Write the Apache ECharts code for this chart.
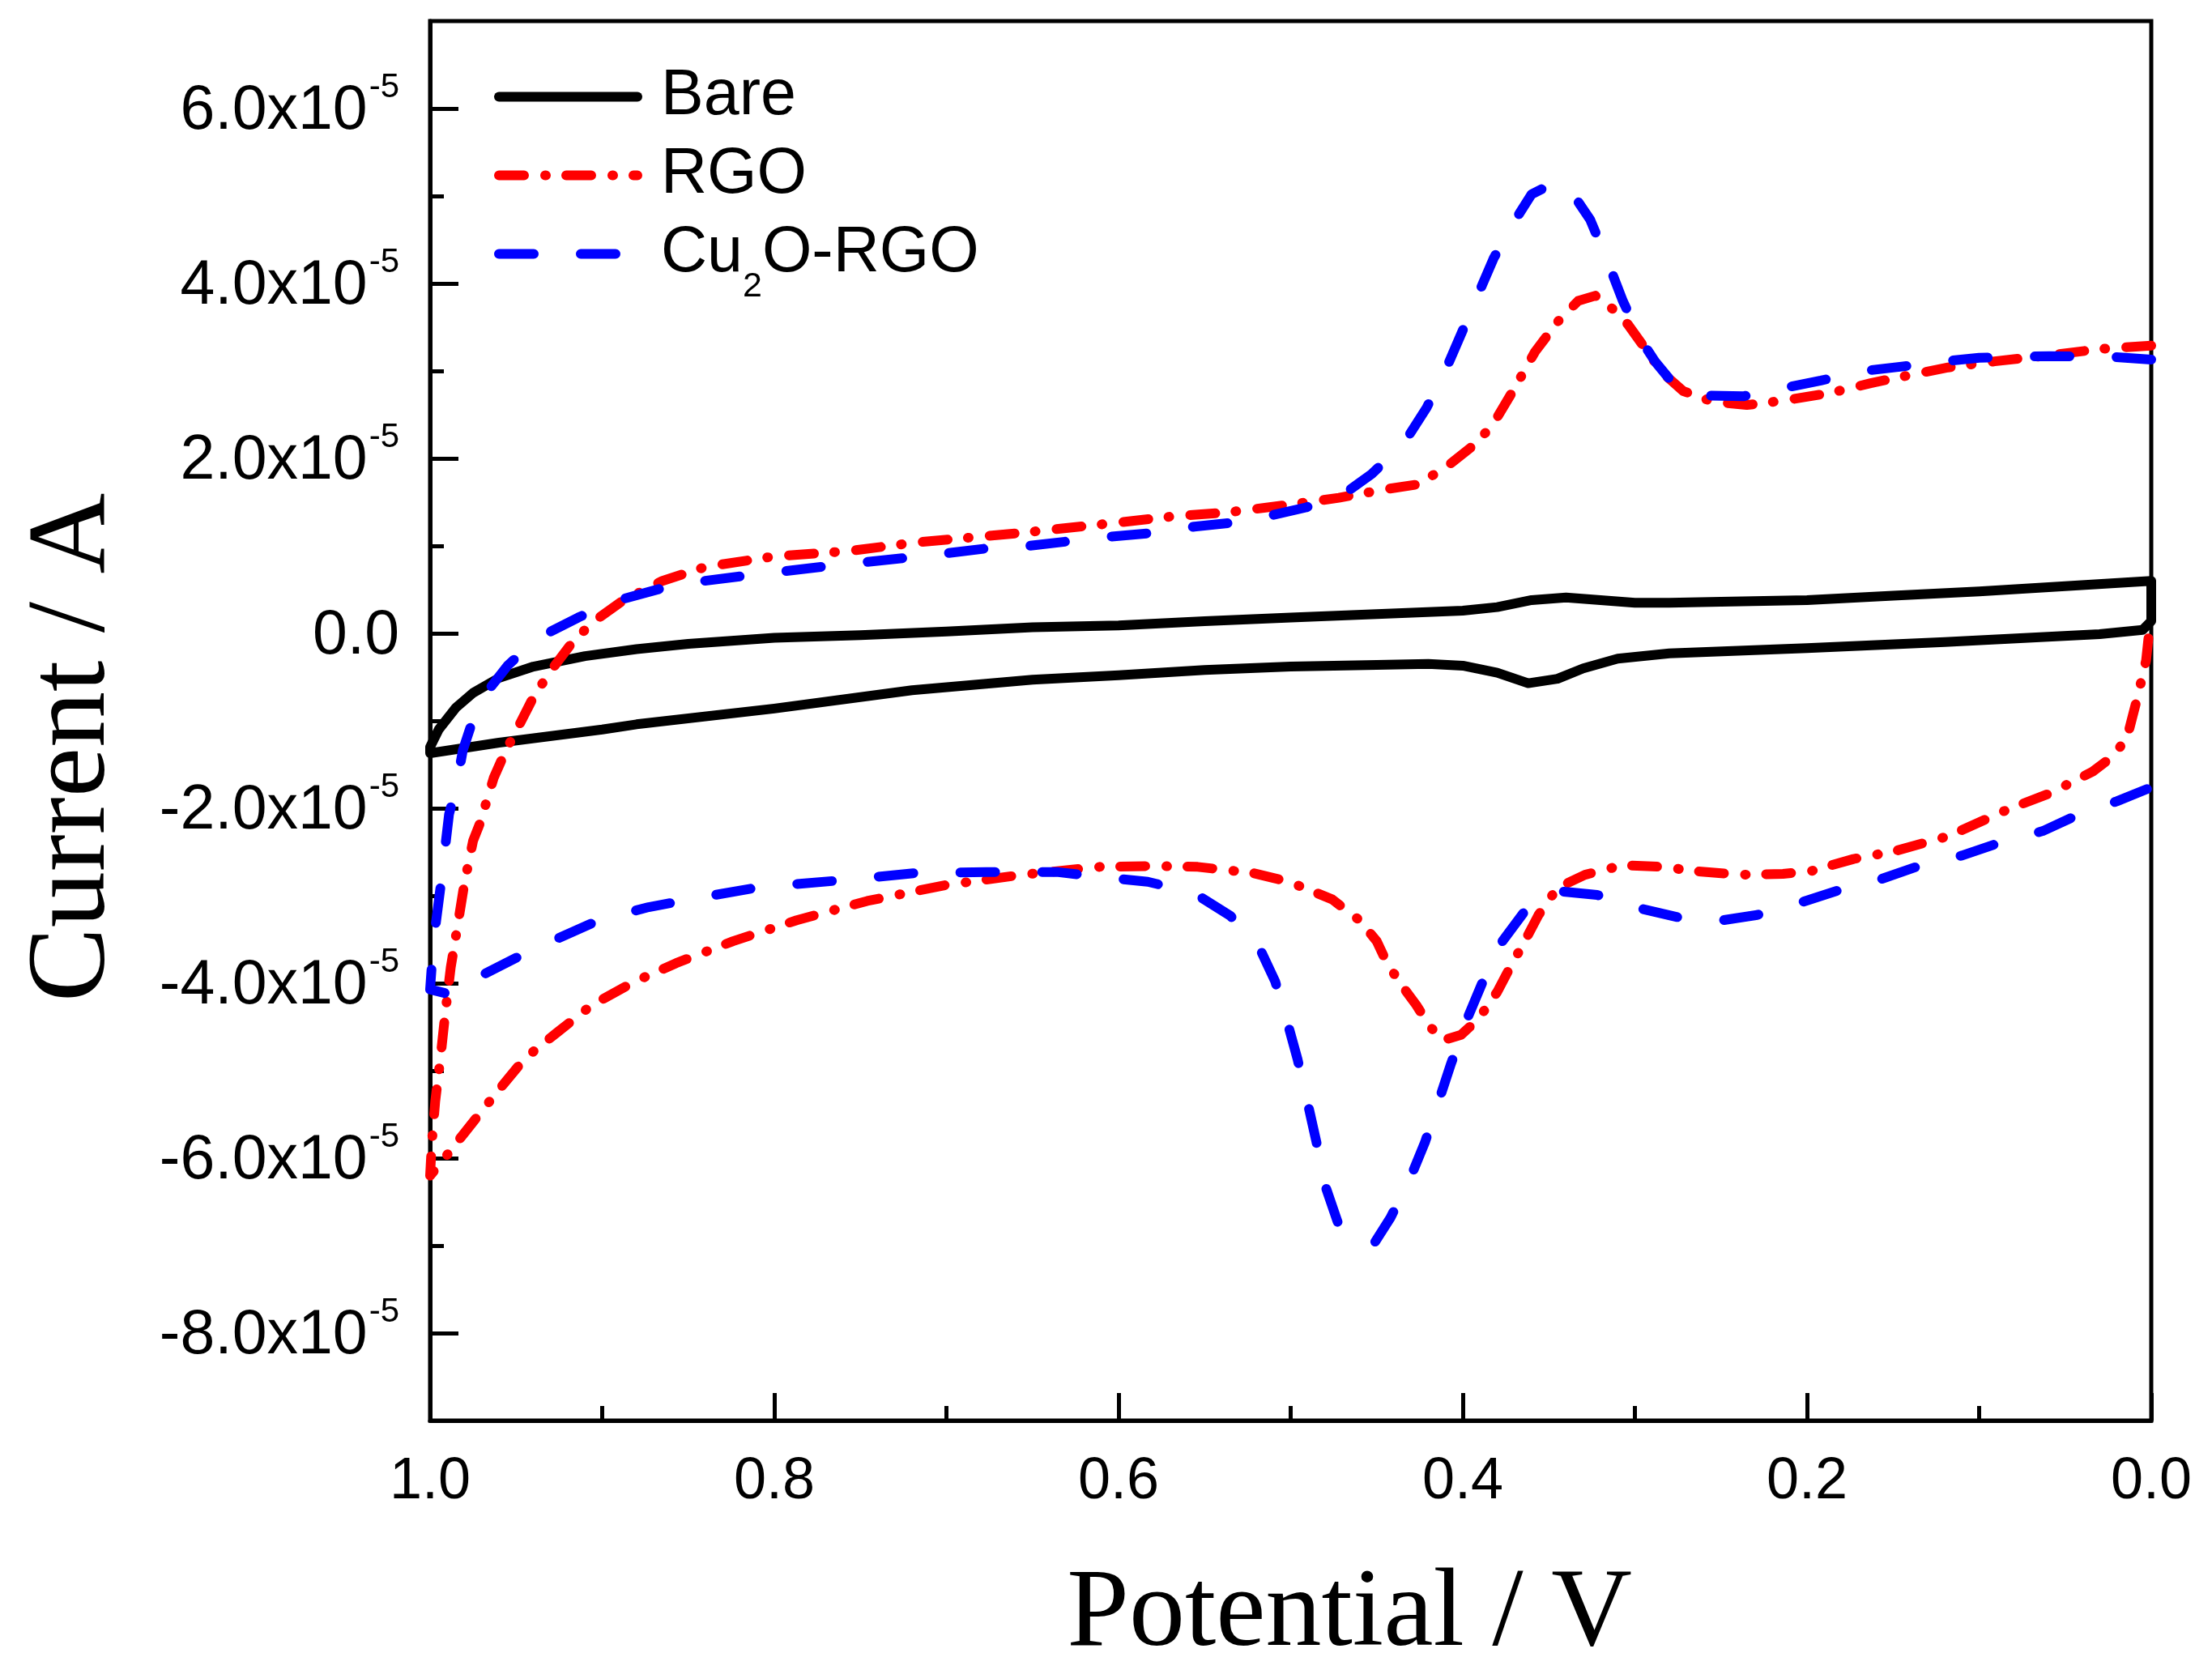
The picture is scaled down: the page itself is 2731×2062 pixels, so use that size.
<!DOCTYPE html>
<html>
<head>
<meta charset="utf-8">
<script src="https://cdn.jsdelivr.net/npm/echarts@6/dist/echarts.min.js"></script>
<style>
html,body{margin:0;padding:0;background:#fff;}
#c{width:2731px;height:2062px;}
</style>
</head>
<body>
<div id="c"></div>
<script>
// Potential (V) vs current (units of 1e-5 A), traced around each CV loop
const xTicks = [0, 0.2, 0.4, 0.6, 0.8, 1.0];
const yMajorTicks = [-8, -6, -4, -2, 0, 2, 4, 6];
const yMinorTicks = [-7, -5, -3, -1, 1, 3, 5];
const seriesNames = ['Bare', 'RGO', 'Cu2O-RGO'];

const bareLoop = [
  [0,0.60],[0.05,0.54],[0.10,0.48],[0.15,0.43],[0.20,0.38],[0.25,0.36],[0.28,0.35],[0.30,0.35],
  [0.32,0.38],[0.34,0.41],[0.36,0.38],[0.38,0.30],[0.40,0.26],[0.45,0.22],[0.50,0.18],[0.55,0.14],
  [0.60,0.09],[0.65,0.07],[0.70,0.02],[0.75,-0.02],[0.80,-0.05],[0.85,-0.12],[0.88,-0.18],[0.91,-0.26],
  [0.94,-0.38],[0.96,-0.51],[0.975,-0.68],[0.985,-0.85],[0.995,-1.10],[1.0,-1.30],
  [1.0,-1.37],[0.96,-1.25],[0.90,-1.10],[0.88,-1.04],[0.80,-0.86],[0.72,-0.65],[0.65,-0.53],[0.60,-0.48],
  [0.55,-0.42],[0.50,-0.38],[0.45,-0.36],[0.42,-0.35],[0.40,-0.37],[0.38,-0.45],[0.362,-0.57],[0.345,-0.52],
  [0.33,-0.40],[0.31,-0.29],[0.28,-0.23],[0.20,-0.17],[0.12,-0.10],[0.03,-0.01],[0.005,0.04],[0,0.14],[0,0.60]
];

const rgoLoop = [
  [0,3.29],[0.030,3.25],[0.063,3.17],[0.091,3.11],[0.118,3.04],[0.141,2.95],[0.163,2.86],[0.186,2.75],
  [0.214,2.66],[0.235,2.61],[0.255,2.65],[0.272,2.77],[0.284,2.98],[0.296,3.31],[0.304,3.53],[0.313,3.71],
  [0.323,3.86],[0.333,3.80],[0.345,3.56],[0.358,3.22],[0.370,2.80],[0.383,2.37],[0.395,2.13],[0.411,1.88],
  [0.427,1.70],[0.444,1.65],[0.472,1.55],[0.501,1.47],[0.538,1.38],[0.567,1.34],[0.608,1.25],[0.656,1.15],
  [0.678,1.11],[0.717,1.04],[0.757,0.94],[0.800,0.88],[0.840,0.76],[0.865,0.60],[0.889,0.36],[0.906,0.12],
  [0.918,-0.12],[0.930,-0.43],[0.940,-0.73],[0.948,-1.04],[0.956,-1.34],[0.963,-1.65],[0.971,-2.17],[0.975,-2.37],
  [0.980,-2.85],[0.984,-3.34],[0.988,-3.82],[0.991,-4.31],[0.994,-4.86],[0.997,-5.35],[0.999,-5.83],[1.0,-6.20],
  [0.990,-5.96],[0.980,-5.71],[0.963,-5.29],[0.945,-4.86],[0.926,-4.56],[0.906,-4.25],[0.881,-3.98],[0.857,-3.77],
  [0.824,-3.52],[0.787,-3.28],[0.746,-3.06],[0.701,-2.88],[0.656,-2.76],[0.611,-2.67],[0.580,-2.66],[0.554,-2.67],
  [0.522,-2.74],[0.501,-2.84],[0.476,-3.04],[0.460,-3.28],[0.450,-3.52],[0.444,-3.77],[0.436,-4.01],[0.427,-4.25],
  [0.419,-4.50],[0.411,-4.65],[0.401,-4.59],[0.391,-4.41],[0.380,-4.10],[0.372,-3.80],[0.364,-3.52],[0.356,-3.22],
  [0.345,-2.91],[0.329,-2.76],[0.307,-2.65],[0.284,-2.67],[0.264,-2.72],[0.239,-2.76],[0.214,-2.75],[0.198,-2.72],
  [0.173,-2.58],[0.149,-2.49],[0.118,-2.32],[0.083,-2.01],[0.059,-1.83],[0.034,-1.58],[0.022,-1.40],[0.014,-1.19],
  [0.008,-0.73],[0.003,-0.31],[0.001,0.06]
];

const cu2oLoop = [
  [0,3.13],[0.022,3.16],[0.059,3.17],[0.100,3.15],[0.120,3.11],[0.145,3.05],[0.167,3.00],[0.192,2.89],
  [0.215,2.80],[0.237,2.71],[0.262,2.72],[0.280,2.91],[0.288,3.10],[0.296,3.34],[0.307,3.80],[0.316,4.26],
  [0.326,4.73],[0.339,5.11],[0.348,5.14],[0.360,5.02],[0.371,4.68],[0.382,4.29],[0.391,3.88],[0.401,3.42],
  [0.410,3.01],[0.421,2.58],[0.434,2.18],[0.453,1.82],[0.470,1.58],[0.491,1.44],[0.511,1.35],[0.536,1.26],
  [0.556,1.22],[0.579,1.15],[0.608,1.10],[0.652,1.00],[0.677,0.97],[0.715,0.88],[0.764,0.78],[0.812,0.67],
  [0.857,0.56],[0.894,0.36],[0.914,0.18],[0.938,-0.06],[0.955,-0.37],[0.967,-0.67],[0.975,-0.98],[0.981,-1.34],
  [0.985,-1.77],[0.989,-2.07],[0.994,-2.91],[0.998,-3.52],[1.0,-4.07],
  [0.988,-4.13],[0.971,-3.92],[0.947,-3.68],[0.926,-3.49],[0.902,-3.28],[0.873,-3.13],[0.840,-3.01],[0.808,-2.90],
  [0.759,-2.82],[0.718,-2.74],[0.677,-2.73],[0.635,-2.73],[0.608,-2.79],[0.583,-2.84],[0.556,-2.97],[0.535,-3.23],
  [0.518,-3.60],[0.509,-3.98],[0.502,-4.44],[0.496,-4.87],[0.490,-5.38],[0.485,-5.82],[0.480,-6.31],[0.472,-6.77],
  [0.452,-6.99],[0.442,-6.68],[0.431,-6.25],[0.422,-5.82],[0.414,-5.35],[0.407,-4.93],[0.399,-4.48],[0.389,-4.01],
  [0.377,-3.52],[0.363,-3.15],[0.343,-2.95],[0.322,-2.99],[0.296,-3.15],[0.274,-3.25],[0.249,-3.28],[0.229,-3.22],
  [0.204,-3.08],[0.182,-2.94],[0.157,-2.81],[0.135,-2.66],[0.110,-2.54],[0.089,-2.40],[0.063,-2.26],[0.042,-2.07],
  [0.020,-1.92],[0,-1.76]
];

const SANS = 'Liberation Sans, Arial, sans-serif';
const SERIF = 'Liberation Serif, Times New Roman, serif';
const tickLine = {color: '#000', width: 5};
const PLOT_W = 2731 - 531 - 75;

const chart = echarts.init(document.getElementById('c'));
chart.setOption({
  animation: false,
  backgroundColor: '#fff',
  grid: {
    left: 531, right: 75, top: 26, bottom: 308, show: true, borderColor: '#000', borderWidth: 5,
    backgroundColor: 'transparent', containLabel: false, outerBoundsMode: 'none'
  },
  legend: {
    orient: 'vertical', left: 610, top: 57, padding: 0,
    itemWidth: 171, itemHeight: 40, itemGap: -28,
    data: seriesNames,
    itemStyle: {color: 'transparent', borderWidth: 0, opacity: 0},
    lineStyle: {width: 12},
    formatter: function (name) {
      return name === 'Cu2O-RGO' ? '{n|Cu}{sub|2}{n|O-RGO}' : '{n|' + name + '}{sub| }';
    },
    textStyle: {
      fontSize: 79, fontFamily: SANS, color: '#000', padding: [0, 0, 0, 24],
      rich: {
        n: {fontSize: 79, fontFamily: SANS, color: '#000', lineHeight: 128, verticalAlign: 'middle'},
        sub: {fontSize: 43, fontFamily: SANS, color: '#000', lineHeight: 128, verticalAlign: 'middle', padding: [82, 0, 0, 0]}
      }
    }
  },
  xAxis: {
    type: 'value', min: 0, max: 1, interval: 0.2, inverse: true,
    axisLine: {onZero: false, lineStyle: tickLine},
    axisTick: {inside: true, length: 34, lineStyle: tickLine},
    minorTick: {show: true, splitNumber: 2, length: 18, lineStyle: tickLine},
    splitLine: {show: false}, minorSplitLine: {show: false},
    axisLabel: {formatter: v => v.toFixed(1), fontSize: 72, fontFamily: SANS, color: '#000', margin: 40},
    name: 'Potential / V', nameLocation: 'middle', nameGap: 172,
    nameTextStyle: {fontFamily: SERIF, fontSize: 138, color: '#000', padding: [0, 0, 0, 145]}
  },
  yAxis: [
    {
      type: 'value', min: -9, max: 7, position: 'left',
      axisLine: {show: true, onZero: false, lineStyle: tickLine},
      axisTick: {inside: true, length: 35, customValues: yMajorTicks, lineStyle: tickLine},
      splitLine: {show: false},
      axisLabel: {
        customValues: yMajorTicks, margin: 38,
        formatter: function (v) {
          if (v === 0) return '{m|0.0}';
          return '{m|' + v.toFixed(1) + 'x10}{s|-5}';
        },
        rich: {
          m: {fontSize: 77, fontFamily: SANS, color: '#000', verticalAlign: 'middle', lineHeight: 120, padding: [8, 0, 0, 0]},
          s: {fontSize: 42, fontFamily: SANS, color: '#000', verticalAlign: 'middle', lineHeight: 120, padding: [0, 0, 52, 2]}
        }
      },
      name: 'Current / A', nameLocation: 'middle', nameGap: 370,
      nameTextStyle: {fontFamily: SERIF, fontSize: 138, color: '#000', padding: [0, 66, 0, 0]}
    },
    {
      // minor ticks, placed onto the left border
      type: 'value', min: -9, max: 7, position: 'right', offset: -PLOT_W,
      axisLine: {show: false, onZero: false},
      axisTick: {inside: false, length: 17, customValues: yMinorTicks, lineStyle: tickLine},
      axisLabel: {show: false},
      splitLine: {show: false}
    }
  ],
  series: [
    {
      name: 'Bare', type: 'line', data: bareLoop, symbol: 'none', yAxisIndex: 0,
      itemStyle: {color: '#000'},
      lineStyle: {color: '#000', width: 12, cap: 'round', join: 'round'}
    },
    {
      name: 'RGO', type: 'line', data: rgoLoop, symbol: 'none', yAxisIndex: 0,
      itemStyle: {color: '#ff0000'},
      lineStyle: {color: '#ff0000', width: 12, type: [31, 26, 1, 25], cap: 'round', join: 'round'}
    },
    {
      name: 'Cu2O-RGO', type: 'line', data: cu2oLoop, symbol: 'none', yAxisIndex: 0,
      itemStyle: {color: '#0000ff'},
      lineStyle: {color: '#0000ff', width: 12, type: [43, 58], cap: 'round', join: 'round'}
    }
  ]
});
</script>
</body>
</html>
